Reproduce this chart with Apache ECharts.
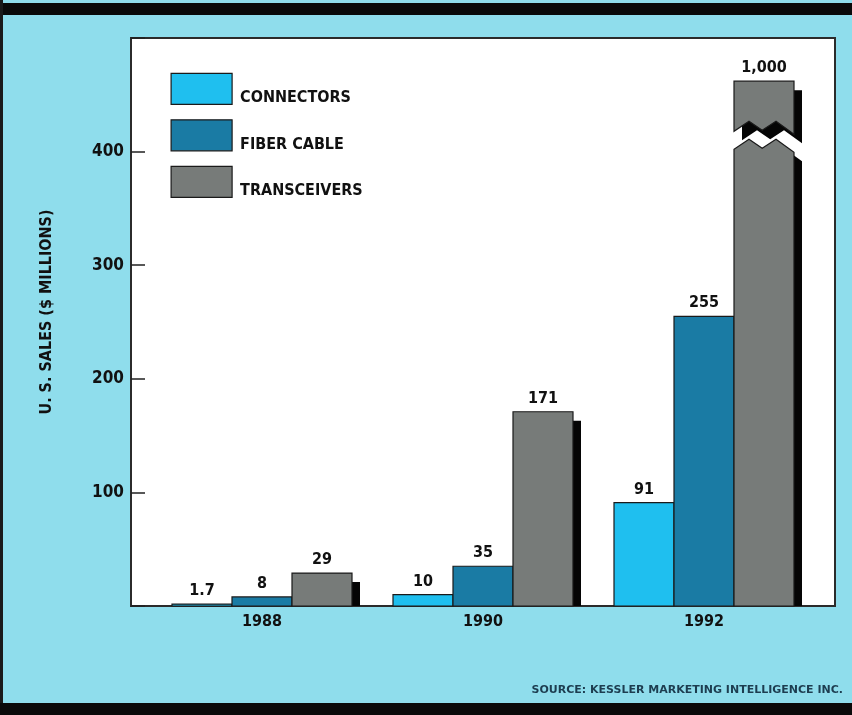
<!DOCTYPE html>
<html>
<head>
<meta charset="utf-8">
<script src="https://cdn.jsdelivr.net/npm/echarts@6/dist/echarts.min.js"></script>
<style>
  html, body { margin: 0; padding: 0; background: #8fddec; }
  #chart { width: 852px; height: 715px; }
</style>
</head>
<body>
<div id="chart"></div>
<script>
// U.S. fiber-optic component sales, $ millions
const YEARS = ['1988', '1990', '1992'];
const CONNECTORS = [1.7, 10, 91];
const FIBER_CABLE = [8, 35, 255];
const TRANSCEIVERS = [29, 171, 1000];
const SERIES_NAMES = ['CONNECTORS', 'FIBER CABLE', 'TRANSCEIVERS'];
const Y_TICKS = [100, 200, 300, 400];
const Y_MAX = 500;
// bars taller than BREAK.hi are drawn with the span lo..hi cut out
const BREAK = { lo: 402, hi: 940 };

const COLORS = ['#1fbfef', '#1a7ba4', '#777b79'];
const INK = '#111';
const COND = "'DejaVu Sans Condensed', 'Liberation Sans Narrow', sans-serif";
const BAR_FRAC = 60 / 221;          // bar width as a share of the category band
const SHADOW = [8, 9];               // drop-shadow offset of the transceiver bars

const fmt = v => v.toLocaleString('en-US');

function slotGeom(api, slot) {
  const idx = api.value(0);
  const band = api.size([1, 0])[0];
  const w = band * BAR_FRAC;
  const [cx, base] = api.coord([idx, 0]);
  const x0 = cx - 1.5 * w + slot * w;
  return { idx, w, x0, x1: x0 + w, base };
}

function valueLabel(x, y, v) {
  return {
    type: 'text',
    z2: 10,
    style: {
      text: fmt(v), x, y,
      align: 'center', textAlign: 'center',
      verticalAlign: 'bottom', textVerticalAlign: 'bottom',
      fontFamily: COND, fontSize: 16, fontWeight: 'bold',
      fill: INK
    }
  };
}

function plainBar(slot) {
  return function (params, api) {
    const g = slotGeom(api, slot);
    const v = api.value(1);
    const top = api.coord([g.idx, v])[1];
    return {
      type: 'group',
      children: [
        {
          type: 'rect',
          shape: { x: g.x0, y: top, width: g.w, height: g.base - top },
          style: { fill: COLORS[slot], stroke: '#1a1a1a', lineWidth: 1.2 }
        },
        valueLabel((g.x0 + g.x1) / 2, top - 5, v)
      ]
    };
  };
}

function transceiverBar(params, api) {
  const g = slotGeom(api, 2);
  const v = api.value(1);
  const broken = v > BREAK.hi;
  const shown = broken ? BREAK.lo + (v - BREAK.hi) : v;
  const top = api.coord([g.idx, shown])[1];
  const pieces = [];
  if (broken) {
    const yLo = api.coord([g.idx, BREAK.lo])[1];
    const zig = dy => [
      [g.x1, yLo + 3 + dy],
      [g.x0 + 0.70 * g.w, yLo - 10 + dy],
      [g.x0 + 0.47 * g.w, yLo - 1 + dy],
      [g.x0 + 0.25 * g.w, yLo - 10 + dy],
      [g.x0, yLo + dy]
    ];
    pieces.push([[g.x0, g.base], [g.x1, g.base]].concat(zig(0)));
    pieces.push([[g.x0, top], [g.x1, top]].concat(zig(-18)));
  } else {
    pieces.push([[g.x0, g.base], [g.x1, g.base], [g.x1, top], [g.x0, top]]);
  }
  const children = [];
  pieces.forEach(pts => {
    const shadowPts = pts.map(p => [p[0] + SHADOW[0], Math.min(p[1] + SHADOW[1], g.base)]);
    children.push({ type: 'polygon', shape: { points: shadowPts }, style: { fill: '#050505' } });
    children.push({
      type: 'polygon', shape: { points: pts },
      style: { fill: COLORS[2], stroke: '#1a1a1a', lineWidth: 1.2 }
    });
  });
  children.push(valueLabel((g.x0 + g.x1) / 2, top - 5, v));
  return { type: 'group', children };
}

const pairs = arr => arr.map((v, i) => [i, v]);

const chart = echarts.init(document.getElementById('chart'), null, { renderer: 'canvas' });
chart.setOption({
  backgroundColor: '#8fddec',
  animation: false,
  graphic: [
    { type: 'rect', shape: { x: 0, y: 3, width: 852, height: 12 }, style: { fill: '#0a0a0a' }, z: 100 },
    { type: 'rect', shape: { x: 0, y: 0, width: 3, height: 715 }, style: { fill: '#1a1a1a' }, z: 100 },
    { type: 'rect', shape: { x: 0, y: 703, width: 852, height: 12 }, style: { fill: '#0a0a0a' }, z: 100 },
    {
      type: 'text', right: 9, top: 685, z: 100,
      style: {
        text: 'SOURCE: KESSLER MARKETING INTELLIGENCE INC.',
        fontFamily: "'DejaVu Sans', sans-serif", fontSize: 11, fontWeight: 'bold', fill: '#1d3d50'
      }
    }
  ],
  legend: {
    orient: 'vertical',
    left: 165.5,
    top: 67.7,
    icon: 'rect',
    itemWidth: 61,
    itemHeight: 31,
    itemGap: 12.9,
    data: SERIES_NAMES,
    itemStyle: { borderColor: '#1a1a1a', borderWidth: 1.2 },
    formatter: name => '{t|' + name + '}',
    textStyle: {
      rich: {
        t: {
          fontFamily: COND, fontWeight: 'bold', fontSize: 16, color: INK,
          padding: [19, 0, 0, 3]
        }
      }
    },
    selectedMode: false
  },
  grid: [
    { left: 131, top: 38, width: 704, height: 568, show: true,
      backgroundColor: '#ffffff', borderColor: '#2b2b2b', borderWidth: 2 },
    { left: 151.5, top: 38, width: 663, height: 568 }
  ],
  xAxis: [
    { gridIndex: 0, type: 'value', min: 0, max: 1, show: false },
    {
      gridIndex: 1, type: 'category', data: YEARS,
      axisLine: { show: false }, axisTick: { show: false },
      axisLabel: { margin: 8, fontFamily: COND, fontWeight: 'bold', fontSize: 16, color: INK }
    }
  ],
  yAxis: [
    {
      gridIndex: 0, type: 'value', min: 0, max: Y_MAX, interval: 100,
      axisLine: { show: false },
      splitLine: { show: false },
      axisTick: { show: true, inside: true, length: 14, lineStyle: { color: '#222', width: 1.5 } },
      axisLabel: {
        margin: 7, fontFamily: COND, fontWeight: 'bold', fontSize: 17, color: INK,
        formatter: v => (Y_TICKS.includes(v) ? String(v) : '')
      },
      name: 'U. S. SALES ($ MILLIONS)',
      nameLocation: 'middle',
      nameRotate: 90,
      nameGap: 76,
      nameTextStyle: {
        fontFamily: COND, fontWeight: 'bold', fontSize: 16, color: INK,
        padding: [0, 0, 0, 20]
      }
    },
    { gridIndex: 1, type: 'value', min: 0, max: Y_MAX, show: false }
  ],
  series: [
    {
      name: SERIES_NAMES[0], type: 'custom', xAxisIndex: 1, yAxisIndex: 1,
      itemStyle: { color: COLORS[0] }, renderItem: plainBar(0),
      encode: { x: 0, y: 1 }, data: pairs(CONNECTORS)
    },
    {
      name: SERIES_NAMES[1], type: 'custom', xAxisIndex: 1, yAxisIndex: 1,
      itemStyle: { color: COLORS[1] }, renderItem: plainBar(1),
      encode: { x: 0, y: 1 }, data: pairs(FIBER_CABLE)
    },
    {
      name: SERIES_NAMES[2], type: 'custom', xAxisIndex: 1, yAxisIndex: 1,
      itemStyle: { color: COLORS[2] }, renderItem: transceiverBar,
      encode: { x: 0, y: 1 }, data: pairs(TRANSCEIVERS)
    }
  ]
});
</script>
</body>
</html>
